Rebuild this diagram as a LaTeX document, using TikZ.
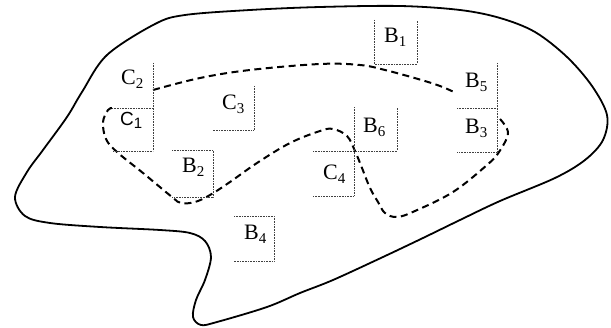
\documentclass[tikz,border=0pt]{standalone}
\usepackage{fontspec}
\setmainfont{Liberation Serif}
\newfontfamily\sansC{Liberation Sans}
\newcommand\lab[2]{#1\raisebox{-4pt}{\fontsize{15}{15}\selectfont #2}}
\begin{document}
\begin{tikzpicture}[x=1pt,y=-1pt,
  lbl/.style={anchor=base west,inner sep=0pt,font=\fontsize{22}{22}\selectfont},
  boxline/.style={densely dotted,line width=0.6pt,black!75},
  outer/.style={line width=1.8pt,line join=round},
  inner/.style={line width=2pt,dash pattern=on 7pt off 4.5pt}]
\useasboundingbox (0,0) rectangle (611,328);
% outer region
\draw[outer] plot[smooth cycle,tension=0.55] coordinates{
 (15,197) (27,172) (43,150) (67,117) (82,92) (107,55) (155,24) (185,15)
 (250,10) (320,7) (400,6) (460,10) (500,18) (535,32) (567,57) (592,86)
 (607,115) (603,140) (585,160) (555,178) (500,201) (460,220) (423,238)
 (383,257) (333,280) (300,293) (267,307) (217,322) (201,325) (193,317)
 (196,300) (205,280) (211,257) (205,241) (190,233) (160,230) (100,227)
 (50,223) (25,216)};
% dashed region, upper part
\draw[inner] plot[smooth,tension=0.6] coordinates{
 (153,90) (200,78) (250,70) (320,64) (360,65) (385,70) (418,79) (440,86) (456,93)};
% dashed region, lower part
\draw[inner] plot[smooth,tension=0.6] coordinates{
 (500,119) (508,133) (499,152) (487,165) (453,192) (415,211) (397,217)
 (385,213) (378,202) (370,188) (362,168) (355,151) (347,136) (333,129)
 (320,131) (290,143) (257,163) (230,182) (210,195) (195,202) (181,203)
 (172,197) (143,173) (117,152) (106,139) (103,122) (108,110) (112,108)};
% boxes
\draw[boxline] (153,63) -- (153,151);
\draw[boxline] (112,108) -- (153,108);
\draw[boxline] (113,151) -- (153,151);
\draw[boxline] (254,86) -- (254,130) -- (213,130);
\draw[boxline] (172,150) -- (213,150) -- (213,197) -- (172,197);
\draw[boxline] (234,216) -- (274,216) -- (274,261) -- (234,261);
\draw[boxline] (374,20) -- (374,64) -- (417,64) -- (417,20);
\draw[boxline] (497,63) -- (497,152) -- (457,152);
\draw[boxline] (457,108) -- (497,108);
\draw[boxline] (354,107) -- (354,151) -- (397,151) -- (397,107);
\draw[boxline] (313,151) -- (354,151) -- (354,196) -- (313,196);
% labels
\node[lbl] (b1) at (384,43) {\lab{B}{1}};
\node[lbl] (b5) at (465,88) {\lab{B}{5}};
\node[lbl] (b3) at (465,134) {\lab{B}{3}};
\node[lbl] (b6) at (363,133) {\lab{B}{6}};
\node[lbl] (c4) at (323,180) {\lab{C}{4}};
\node[lbl] (c2) at (121,85) {\lab{C}{2}};
\node[lbl,font=\sansC\fontsize{19}{19}\selectfont] (c1) at (120,126) {C\raisebox{-3pt}{\fontsize{15}{15}\selectfont 1}};
\node[lbl] (c3) at (222,110) {\lab{C}{3}};
\node[lbl] (b2) at (182,173) {\lab{B}{2}};
\node[lbl] (b4) at (244,240) {\lab{B}{4}};
\end{tikzpicture}
\end{document}
